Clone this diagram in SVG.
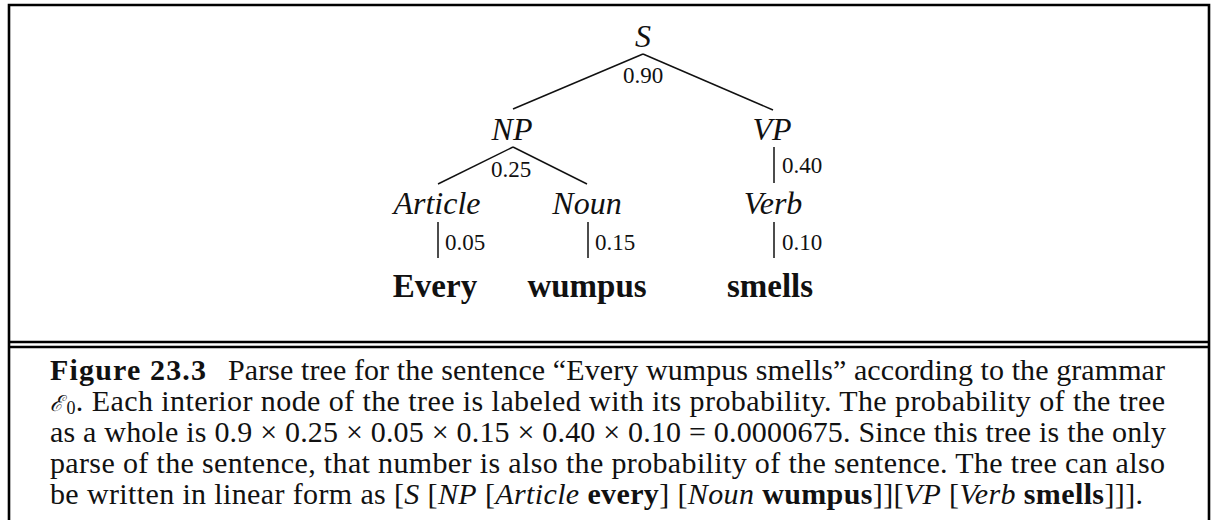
<svg xmlns="http://www.w3.org/2000/svg" width="1213" height="520" viewBox="0 0 1213 520">
<style>
text{font-family:'Liberation Serif','Times New Roman',Times,serif;fill:#111}
.lbl{font-style:italic;font-size:32px;text-anchor:middle}
.word{font-weight:bold;font-size:33px;text-anchor:middle}
.num{font-size:23px}
.cap{font-size:30px}
.edge{stroke:#111;stroke-width:1.5;fill:none}
.frame{stroke:#000;stroke-width:2.6;fill:none}
</style>
<rect width="1213" height="520" fill="#fff"/>
<g id="frame">
<path class="frame" d="M9 525 V5 H1209 V525"/>
<line class="frame" x1="9" y1="342" x2="1209" y2="342"/>
<line class="frame" x1="9" y1="347" x2="1209" y2="347"/>
</g>
<g id="connectors">
<line class="edge" x1="643" y1="54" x2="513" y2="109"/>
<line class="edge" x1="643" y1="54" x2="773" y2="110"/>
<line class="edge" x1="513" y1="147" x2="438" y2="184"/>
<line class="edge" x1="513" y1="147" x2="587" y2="184"/>
<line class="edge" x1="774" y1="147" x2="774" y2="183"/>
<line class="edge" x1="438" y1="222" x2="438" y2="258"/>
<line class="edge" x1="588" y1="222" x2="588" y2="258"/>
<line class="edge" x1="774" y1="222" x2="774" y2="258"/>
<text class="num" x="643" y="83" text-anchor="middle">0.90</text>
<text class="num" x="511" y="177" text-anchor="middle">0.25</text>
<text class="num" x="782" y="173">0.40</text>
<text class="num" x="445" y="250">0.05</text>
<text class="num" x="595" y="250">0.15</text>
<text class="num" x="782" y="250">0.10</text>
</g>
<g id="S"><text class="lbl" x="643" y="47">S</text></g>
<g id="NP"><text class="lbl" x="512" y="140">NP</text></g>
<g id="VP"><text class="lbl" x="772" y="140">VP</text></g>
<g id="Article"><text class="lbl" x="437" y="214">Article</text></g>
<g id="Noun"><text class="lbl" x="587" y="214">Noun</text></g>
<g id="Verb"><text class="lbl" x="773" y="214">Verb</text></g>
<g id="Every"><text class="word" x="435" y="297">Every</text></g>
<g id="wumpus"><text class="word" x="587" y="297">wumpus</text></g>
<g id="smells"><text class="word" x="770" y="297">smells</text></g>
<g id="caption">
<text class="cap" x="50" y="380" font-weight="bold" textLength="156" lengthAdjust="spacing">Figure 23.3</text>
<text class="cap" x="228" y="380" textLength="937" lengthAdjust="spacing">Parse tree for the sentence “Every wumpus smells” according to the grammar</text>
<text class="cap" x="50" y="411" textLength="1115" lengthAdjust="spacing"><tspan font-family="DejaVu Serif" font-style="italic" font-size="22">ℰ</tspan><tspan font-size="18" dx="3" baseline-shift="-3">0</tspan>. Each interior node of the tree is labeled with its probability. The probability of the tree</text>
<text class="cap" x="50" y="442" textLength="1116" lengthAdjust="spacing">as a whole is 0.9 × 0.25 × 0.05 × 0.15 × 0.40 × 0.10 = 0.0000675. Since this tree is the only</text>
<text class="cap" x="50" y="473" textLength="1115" lengthAdjust="spacing">parse of the sentence, that number is also the probability of the sentence. The tree can also</text>
<text class="cap" x="50" y="504" textLength="1093" lengthAdjust="spacing">be written in linear form as [<tspan font-style="italic">S</tspan> [<tspan font-style="italic">NP</tspan> [<tspan font-style="italic">Article</tspan> <tspan font-weight="bold">every</tspan>] [<tspan font-style="italic">Noun</tspan> <tspan font-weight="bold">wumpus</tspan>]][<tspan font-style="italic">VP</tspan> [<tspan font-style="italic">Verb</tspan> <tspan font-weight="bold">smells</tspan>]]].</text>
</g>
</svg>
